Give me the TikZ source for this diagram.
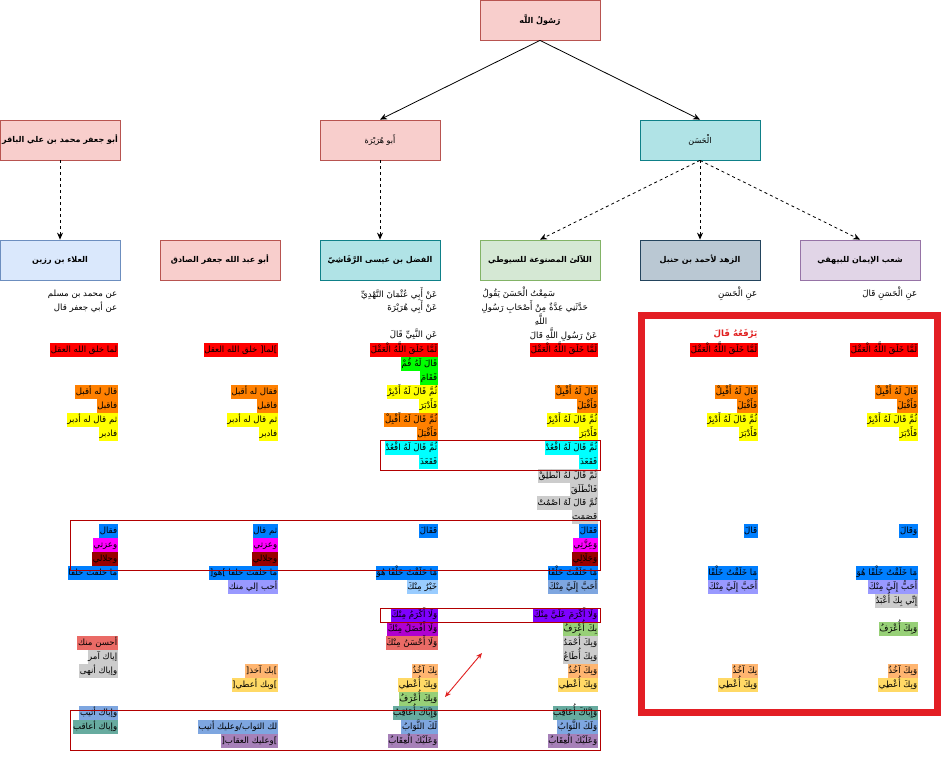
\documentclass[tikz,border=0pt]{standalone}
\usepackage{fontspec}
\usetikzlibrary{arrows.meta}
\TeXXeTstate=1
\newfontfamily\arabicfont[Script=Arabic]{DejaVu Sans}
\definecolor{cRed}{HTML}{FF0000}
\definecolor{cOrange}{HTML}{FF8000}
\definecolor{cYellow}{HTML}{FFFF00}
\definecolor{cGreen}{HTML}{00FF00}
\definecolor{cCyan}{HTML}{00FFFF}
\definecolor{cGray}{HTML}{CCCCCC}
\definecolor{cBlue}{HTML}{007FFF}
\definecolor{cMag}{HTML}{FF00FF}
\definecolor{cDark}{HTML}{990000}
\definecolor{cLav}{HTML}{9999FF}
\definecolor{cLBlue}{HTML}{99CCFF}
\definecolor{cViolet}{HTML}{7F00FF}
\definecolor{cPurpMag}{HTML}{B000D0}
\definecolor{cSalmon}{HTML}{EA6B66}
\definecolor{cLOrange}{HTML}{FFB570}
\definecolor{cLYellow}{HTML}{FFD966}
\definecolor{cLGreen}{HTML}{97D077}
\definecolor{cTeal}{HTML}{67AB9F}
\definecolor{cCorn}{HTML}{7EA6E0}
\definecolor{cPurple}{HTML}{A680B8}
\definecolor{pinkF}{HTML}{F8CECC}
\definecolor{pinkD}{HTML}{B85450}
\definecolor{tealF}{HTML}{B0E3E6}
\definecolor{tealD}{HTML}{0E8088}
\definecolor{blueF}{HTML}{DAE8FC}
\definecolor{blueD}{HTML}{6C8EBF}
\definecolor{greenF}{HTML}{D5E8D4}
\definecolor{greenD}{HTML}{82B366}
\definecolor{slateF}{HTML}{BAC8D3}
\definecolor{slateD}{HTML}{23445D}
\definecolor{purpF}{HTML}{E1D5E7}
\definecolor{purpD}{HTML}{9673A6}
\definecolor{frameRed}{HTML}{B20000}
\definecolor{bigRed}{HTML}{E31E24}
\definecolor{txtRed}{HTML}{E02020}
\tikzset{
  box/.style={draw, line width=0.8pt, minimum width=120pt, minimum height=40pt, inner sep=2pt,
    font=\arabicfont\fontsize{8}{10}\selectfont\bfseries},
  boxn/.style={box, font=\arabicfont\fontsize{8}{10}\selectfont},
  hl/.style={anchor=east, inner xsep=0.6pt, inner ysep=0pt, text height=9.5pt, text depth=4.45pt,
    font=\arabicfont\fontsize{8.6}{10}\selectfont},
  txt/.style={anchor=east, inner sep=0.5pt, font=\arabicfont\fontsize{8.6}{10}\selectfont},
  arr/.style={-{Stealth[length=7pt,width=6pt]}, line width=0.8pt},
  darr/.style={-{Stealth[length=7pt,width=6pt]}, line width=0.8pt, dash pattern=on 3pt off 3pt},
  frame/.style={draw=frameRed, line width=1pt},
}
\begin{document}
\begin{tikzpicture}[x=1pt,y=-1pt]
\useasboundingbox (0,0) rectangle (941,760);
% top boxes
\node[box, fill=pinkF, draw=pinkD] (root) at (540,20) {\beginR رَسُولُ اللَّه\endR};
\node[box, fill=pinkF, draw=pinkD] (abuj) at (60,140) {\beginR أبو جعفر محمد بن علي الباقر\endR};
\node[boxn, fill=pinkF, draw=pinkD] (abuh) at (380,140) {\beginR أَبو هُرَيْرَة\endR};
\node[boxn, fill=tealF, draw=tealD] (hasan) at (700,140) {\beginR الْحَسَن\endR};
% third row
\node[box, fill=blueF, draw=blueD] (ala) at (60,260) {\beginR العلاء بن رزين\endR};
\node[box, fill=pinkF, draw=pinkD] (sadiq) at (220,260) {\beginR أبو عبد الله جعفر الصادق\endR};
\node[box, fill=tealF, draw=tealD] (fadl) at (380,260) {\beginR الفضل بن عيسى الرَّقَاشِيّ\endR};
\node[box, fill=greenF, draw=greenD] (laali) at (540,260) {\beginR اللآلئ المصنوعة للسيوطي\endR};
\node[box, fill=slateF, draw=slateD] (zuhd) at (700,260) {\beginR الزهد لأحمد بن حنبل\endR};
\node[box, fill=purpF, draw=purpD] (shuab) at (860,260) {\beginR شعب الإيمان للبيهقي\endR};
% connectors
\draw[arr] (root.south) -- (abuh.north);
\draw[arr] (root.south) -- (hasan.north);
\draw[darr] (abuj.south) -- (ala.north);
\draw[darr] (abuh.south) -- (fadl.north);
\draw[darr] (hasan.south) -- (laali.north);
\draw[darr] (hasan.south) -- (zuhd.north);
\draw[darr] (hasan.south) -- (shuab.north);
% header texts
\node[txt] (ah1) at (118,294) {\beginR عن محمد بن مسلم\endR};
\node[txt] (ah2) at (118,307) {\beginR عن أبي جعفر قال\endR};
\node[txt] (ch1) at (438,294) {\beginR عَنْ أَبِي عُثْمَانَ النَّهْدِيِّ\endR};
\node[txt] (ch2) at (438,307) {\beginR عَنْ أَبِي هُرَيْرَةَ\endR};
\node[txt] (ch3) at (438,335) {\beginR عَنِ النَّبِيِّ قَالَ\endR};
\node[txt, anchor=west] (dh1) at (482,293) {\beginR سَمِعْتُ الْحَسَنَ يَقُولُ\endR};
\node[txt, anchor=west] (dh2) at (481,307) {\beginR حَدَّثَنِي عِدَّةٌ مِنْ أَصْحَابِ رَسُولِ\endR};
\node[txt, anchor=center] (dh3) at (541,320) {\beginR اللَّهِ\endR};
\node[txt] (dh4) at (598,335) {\beginR عَنْ رَسُولِ اللَّهِ قَالَ\endR};
\node[txt] (eh1) at (758,294) {\beginR عَنِ الْحَسَنِ\endR};
\node[txt, text=txtRed, font=\arabicfont\fontsize{8.6}{10}\selectfont\bfseries] (eh2) at (758,334) {\beginR يَرْفَعُهُ قَالَ\endR};
\node[txt] (fh1) at (918,294) {\beginR عَنِ الْحَسَنِ قَالَ\endR};
% column a
\node[hl,fill=cRed] (a0) at (118,350) {\beginR لما خلق الله العقل\endR};
\node[hl,fill=cOrange] (a3) at (118,391.85) {\beginR قال له أقبل\endR};
\node[hl,fill=cOrange] (a4) at (118,405.8) {\beginR فاقبل\endR};
\node[hl,fill=cYellow] (a5) at (118,419.75) {\beginR ثم قال له أدبر\endR};
\node[hl,fill=cYellow] (a6) at (118,433.7) {\beginR فادبر\endR};
\node[hl,fill=cBlue] (a13) at (118,531.35) {\beginR فقال\endR};
\node[hl,fill=cMag] (a14) at (118,545.3) {\beginR وعزتي\endR};
\node[hl,fill=cDark] (a15) at (118,559.25) {\beginR وجلالي\endR};
\node[hl,fill=cBlue] (a16) at (118,573.2) {\beginR ما خلقت خلقا\endR};
\node[hl,fill=cSalmon] (a21) at (118,642.95) {\beginR أحسن منك\endR};
\node[hl,fill=cGray] (a22) at (118,656.9) {\beginR إياك آمر\endR};
\node[hl,fill=cGray] (a23) at (118,670.85) {\beginR وإياك أنهى\endR};
\node[hl,fill=cCorn] (a26) at (118,712.7) {\beginR وإياك أثيب\endR};
\node[hl,fill=cTeal] (a27) at (118,726.65) {\beginR وإياك أعاقب\endR};
% column b
\node[hl,fill=cRed] (b0) at (278,350) {\beginR \hbox{]}لما\hbox{[} خلق الله العقل\endR};
\node[hl,fill=cOrange] (b3) at (278,391.85) {\beginR فقال له أقبل\endR};
\node[hl,fill=cOrange] (b4) at (278,405.8) {\beginR فاقبل\endR};
\node[hl,fill=cYellow] (b5) at (278,419.75) {\beginR ثم قال له أدبر\endR};
\node[hl,fill=cYellow] (b6) at (278,433.7) {\beginR فادبر\endR};
\node[hl,fill=cBlue] (b13) at (278,531.35) {\beginR ثم قال\endR};
\node[hl,fill=cMag] (b14) at (278,545.3) {\beginR وعزتي\endR};
\node[hl,fill=cDark] (b15) at (278,559.25) {\beginR وجلالي\endR};
\node[hl,fill=cBlue] (b16) at (278,573.2) {\beginR ما خلقت خلقا \hbox{]}هو\hbox{[}\endR};
\node[hl,fill=cLav] (b17) at (278,587.15) {\beginR أحب إلي منك\endR};
\node[hl,fill=cLOrange] (b23) at (278,670.85) {\beginR \hbox{]}بك آخذ\hbox{[}\endR};
\node[hl,fill=cLYellow] (b24) at (278,684.8) {\beginR \hbox{]}وبك أعطي\hbox{[}\endR};
\node[hl,fill=cCorn] (b27) at (278,726.65) {\beginR لك الثواب/وعليك أثيب\endR};
\node[hl,fill=cPurple] (b28) at (278,740.6) {\beginR \hbox{]}وعليك العقاب\hbox{[}\endR};
% column c
\node[hl,fill=cRed] (c0) at (438,350) {\beginR لَمَّا خَلَقَ اللَّهُ الْعَقْلَ\endR};
\node[hl,fill=cGreen] (c1) at (438,363.95) {\beginR قَالَ لَهُ قُمْ\endR};
\node[hl,fill=cGreen] (c2) at (438,377.9) {\beginR فَقَامَ\endR};
\node[hl,fill=cYellow] (c3) at (438,391.85) {\beginR ثُمَّ قَالَ لَهُ أَدْبِرْ\endR};
\node[hl,fill=cYellow] (c4) at (438,405.8) {\beginR فَأَدْبَرَ\endR};
\node[hl,fill=cOrange] (c5) at (438,419.75) {\beginR ثُمَّ قَالَ لَهُ أَقْبِلْ\endR};
\node[hl,fill=cOrange] (c6) at (438,433.7) {\beginR فَأَقْبَلَ\endR};
\node[hl,fill=cCyan] (c7) at (438,447.65) {\beginR ثُمَّ قَالَ لَهُ اقْعُدْ\endR};
\node[hl,fill=cCyan] (c8) at (438,461.6) {\beginR فَقَعَدَ\endR};
\node[hl,fill=cBlue] (c13) at (438,531.35) {\beginR فَقَالَ\endR};
\node[hl,fill=cBlue] (c16) at (438,573.2) {\beginR مَا خَلَقْتُ خَلْقًا هُوَ\endR};
\node[hl,fill=cLBlue] (c17) at (438,587.15) {\beginR خَيْرٌ مِنْكَ\endR};
\node[hl,fill=cViolet] (c19) at (438,615.05) {\beginR وَلَا أَكْرَمُ مِنْكَ\endR};
\node[hl,fill=cPurpMag] (c20) at (438,629) {\beginR وَلَا أَفْضَلُ مِنْكَ\endR};
\node[hl,fill=cSalmon] (c21) at (438,642.95) {\beginR وَلَا أَحْسَنُ مِنْكَ\endR};
\node[hl,fill=cLOrange] (c23) at (438,670.85) {\beginR بِكَ آخُذُ\endR};
\node[hl,fill=cLYellow] (c24) at (438,684.8) {\beginR وَبِكَ أُعْطِي\endR};
\node[hl,fill=cLGreen] (c25) at (438,698.75) {\beginR وَبِكَ أُعْرَفُ\endR};
\node[hl,fill=cTeal] (c26) at (438,712.7) {\beginR وَإِيَّاكَ أُعَاقِبُ\endR};
\node[hl,fill=cCorn] (c27) at (438,726.65) {\beginR لَكَ الثَّوَابُ\endR};
\node[hl,fill=cPurple] (c28) at (438,740.6) {\beginR وَعَلَيْكَ الْعِقَابُ\endR};
% column d
\node[hl,fill=cRed] (d0) at (598,350) {\beginR لَمَّا خَلَقَ اللَّهُ الْعَقْلَ\endR};
\node[hl,fill=cOrange] (d3) at (598,391.85) {\beginR قَالَ لَهُ أَقْبِلْ\endR};
\node[hl,fill=cOrange] (d4) at (598,405.8) {\beginR فَأَقْبَلَ\endR};
\node[hl,fill=cYellow] (d5) at (598,419.75) {\beginR ثُمَّ قَالَ لَهُ أَدْبِرْ\endR};
\node[hl,fill=cYellow] (d6) at (598,433.7) {\beginR فَأَدْبَرَ\endR};
\node[hl,fill=cCyan] (d7) at (598,447.65) {\beginR ثُمَّ قَالَ لَهُ اقْعُدْ\endR};
\node[hl,fill=cCyan] (d8) at (598,461.6) {\beginR فَقَعَدَ\endR};
\node[hl,fill=cGray] (d9) at (598,475.55) {\beginR ثُمَّ قَالَ لَهُ انْطَلِقْ\endR};
\node[hl,fill=cGray] (d10) at (598,489.5) {\beginR فَانْطَلَقَ\endR};
\node[hl,fill=cGray] (d11) at (598,503.45) {\beginR ثُمَّ قَالَ لَهُ اصْمُتْ\endR};
\node[hl,fill=cGray] (d12) at (598,517.4) {\beginR فَصَمَتَ\endR};
\node[hl,fill=cBlue] (d13) at (598,531.35) {\beginR فَقَالَ\endR};
\node[hl,fill=cMag] (d14) at (598,545.3) {\beginR وَعِزَّتِي\endR};
\node[hl,fill=cDark] (d15) at (598,559.25) {\beginR وَجَلَالِي\endR};
\node[hl,fill=cBlue] (d16) at (598,573.2) {\beginR مَا خَلَقْتُ خَلْقًا\endR};
\node[hl,fill=cCorn] (d17) at (598,587.15) {\beginR أَحَبَّ إِلَيَّ مِنْكَ\endR};
\node[hl,fill=cViolet] (d19) at (598,615.05) {\beginR وَلَا أَكْرَمَ عَلَيَّ مِنْكَ\endR};
\node[hl,fill=cLGreen] (d20) at (598,629) {\beginR بِكَ أُعْرَفُ\endR};
\node[hl,fill=cGray] (d21) at (598,642.95) {\beginR وَبِكَ أُحْمَدُ\endR};
\node[hl,fill=cGray] (d22) at (598,656.9) {\beginR وَبِكَ أُطَاعُ\endR};
\node[hl,fill=cLOrange] (d23) at (598,670.85) {\beginR وَبِكَ آخُذُ\endR};
\node[hl,fill=cLYellow] (d24) at (598,684.8) {\beginR وَبِكَ أُعْطِي\endR};
\node[hl,fill=cTeal] (d26) at (598,712.7) {\beginR وَإِيَّاكَ أُعَاقِبُ\endR};
\node[hl,fill=cCorn] (d27) at (598,726.65) {\beginR وَلَكَ الثَّوَابُ\endR};
\node[hl,fill=cPurple] (d28) at (598,740.6) {\beginR وَعَلَيْكَ الْعِقَابُ\endR};
% column e
\node[hl,fill=cRed] (e0) at (758,350) {\beginR لَمَّا خَلَقَ اللَّهُ الْعَقْلَ\endR};
\node[hl,fill=cOrange] (e3) at (758,391.85) {\beginR قَالَ لَهُ أَقْبِلْ\endR};
\node[hl,fill=cOrange] (e4) at (758,405.8) {\beginR فَأَقْبَلَ\endR};
\node[hl,fill=cYellow] (e5) at (758,419.75) {\beginR ثُمَّ قَالَ لَهُ أَدْبِرْ\endR};
\node[hl,fill=cYellow] (e6) at (758,433.7) {\beginR فَأَدْبَرَ\endR};
\node[hl,fill=cBlue] (e13) at (758,531.35) {\beginR قَالَ\endR};
\node[hl,fill=cBlue] (e16) at (758,573.2) {\beginR مَا خَلَقْتُ خَلْقًا\endR};
\node[hl,fill=cLav] (e17) at (758,587.15) {\beginR أَحَبَّ إِلَيَّ مِنْكَ\endR};
\node[hl,fill=cLOrange] (e23) at (758,670.85) {\beginR بِكَ آخُذُ\endR};
\node[hl,fill=cLYellow] (e24) at (758,684.8) {\beginR وَبِكَ أُعْطِي\endR};
% column f
\node[hl,fill=cRed] (f0) at (918,350) {\beginR لَمَّا خَلَقَ اللَّهُ الْعَقْلَ\endR};
\node[hl,fill=cOrange] (f3) at (918,391.85) {\beginR قَالَ لَهُ أَقْبِلْ\endR};
\node[hl,fill=cOrange] (f4) at (918,405.8) {\beginR فَأَقْبَلَ\endR};
\node[hl,fill=cYellow] (f5) at (918,419.75) {\beginR ثُمَّ قَالَ لَهُ أَدْبِرْ\endR};
\node[hl,fill=cYellow] (f6) at (918,433.7) {\beginR فَأَدْبَرَ\endR};
\node[hl,fill=cBlue] (f13) at (918,531.35) {\beginR وَقَالَ\endR};
\node[hl,fill=cBlue] (f16) at (918,573.2) {\beginR مَا خَلَقْتُ خَلْقًا هُوَ\endR};
\node[hl,fill=cLav] (f17) at (918,587.15) {\beginR أَحَبُّ إِلَيَّ مِنْكَ\endR};
\node[hl,fill=cGray] (f18) at (918,601.1) {\beginR إِنِّي بِكَ أُعْبَدُ\endR};
\node[hl,fill=cLGreen] (f20) at (918,629) {\beginR وَبِكَ أُعْرَفُ\endR};
\node[hl,fill=cLOrange] (f23) at (918,670.85) {\beginR وَبِكَ آخُذُ\endR};
\node[hl,fill=cLYellow] (f24) at (918,684.8) {\beginR وَبِكَ أُعْطِي\endR};
% frames
\draw[frame] (380,440) rectangle (600,470);
\draw[frame] (70,520) rectangle (600,570);
\draw[frame] (380,608) rectangle (600,622);
\draw[frame] (70,710) rectangle (600,750);
\draw[draw=bigRed, line width=7pt] (641,315) rectangle (937,712);
% red double arrow
\coordinate (dA) at (445,697);
\coordinate (dB) at (482,653);
\draw[txtRed, line width=0.9pt, {Stealth[length=6pt,width=5pt]}-{Stealth[length=6pt,width=5pt]}] (dA) -- (dB);
\end{tikzpicture}
\end{document}
